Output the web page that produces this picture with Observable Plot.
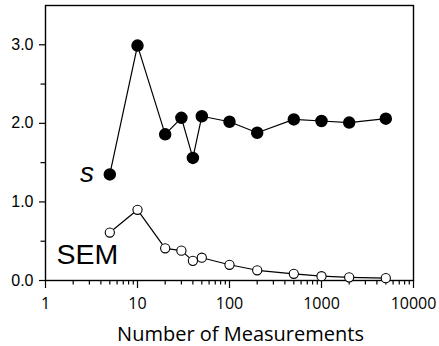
<!DOCTYPE html>
<html>
<head>
<meta charset="utf-8">
<script src="https://cdn.jsdelivr.net/npm/d3@7"></script>
<script src="https://cdn.jsdelivr.net/npm/@observablehq/plot@0.6"></script>
<style>
  html, body { margin: 0; padding: 0; background: #fff; }
</style>
</head>
<body>
<div id="chart"></div>
<script>
const nValues = [5, 10, 20, 30, 40, 50, 100, 200, 500, 1000, 2000, 5000];
const sValues = [1.35, 2.99, 1.86, 2.07, 1.56, 2.09, 2.02, 1.88, 2.05, 2.03, 2.01, 2.06];
const semValues = [0.61, 0.90, 0.41, 0.38, 0.25, 0.29, 0.20, 0.13, 0.085, 0.055, 0.04, 0.03];
const xTicks = [1, 10, 100, 1000, 10000];
const xMinorTicks = [1, 10, 100, 1000].flatMap(d => [2, 3, 4, 5, 6, 7, 8, 9].map(k => d * k));
const yTicks = [0, 1, 2, 3];
const yMinorTicks = [0.5, 1.5, 2.5];
const xTitle = "Number of Measurements";

const sData = nValues.map((n, i) => ({n, v: sValues[i]}));
const semData = nValues.map((n, i) => ({n, v: semValues[i]}));

const chart = Plot.plot({
  width: 439,
  height: 346,
  marginLeft: 45,
  marginRight: 26,
  marginTop: 5,
  marginBottom: 66,
  style: {fontFamily: "'Liberation Sans', Arial, sans-serif", fontSize: "16px", color: "black", background: "white"},
  x: {type: "log", domain: [1, 10000]},
  y: {domain: [0, 3.5]},
  marks: [
    Plot.frame({stroke: "black", strokeWidth: 1.4}),
    Plot.axisY({ticks: yTicks, tickFormat: d3.format(".1f"), tickSize: 6, tickPadding: 6, label: null, strokeWidth: 1.2, fontSize: 16}),
    Plot.axisY({ticks: yMinorTicks, tickSize: 4.5, text: null, label: null, strokeWidth: 1.2}),
    Plot.axisX({ticks: xTicks, tickFormat: d => String(d), tickSize: 8, tickPadding: 9, label: null, strokeWidth: 1.2, fontFamily: "'Open Sans', sans-serif", fontSize: 16}),
    Plot.axisX({ticks: xMinorTicks, tickSize: 4.5, text: null, label: null, strokeWidth: 1.2}),
    Plot.line(sData, {x: "n", y: "v", stroke: "black", strokeWidth: 1.2}),
    Plot.line(semData, {x: "n", y: "v", stroke: "black", strokeWidth: 1.2}),
    Plot.dot(sData, {x: "n", y: "v", r: 5.5, fill: "black", stroke: "black"}),
    Plot.dot(semData, {x: "n", y: "v", r: 4.6, fill: "white", stroke: "black", strokeWidth: 1.1}),
    Plot.text(["s"], {x: 2.83, y: 1.25, text: d => d, textAnchor: "middle", lineAnchor: "bottom", fontSize: 28, fontStyle: "italic", fontFamily: "'Liberation Sans', Arial, sans-serif"}),
    Plot.text(["SEM"], {x: 1.317, y: 0.204, text: d => d, textAnchor: "start", lineAnchor: "bottom", fontSize: 28.5, fontFamily: "'Liberation Sans', Arial, sans-serif"}),
    Plot.text([xTitle], {frameAnchor: "bottom", dx: 11, dy: 60, text: d => d, lineAnchor: "bottom", fontSize: 20, fontFamily: "'Open Sans', sans-serif"})
  ]
});
document.getElementById("chart").appendChild(chart);
</script>
</body>
</html>
